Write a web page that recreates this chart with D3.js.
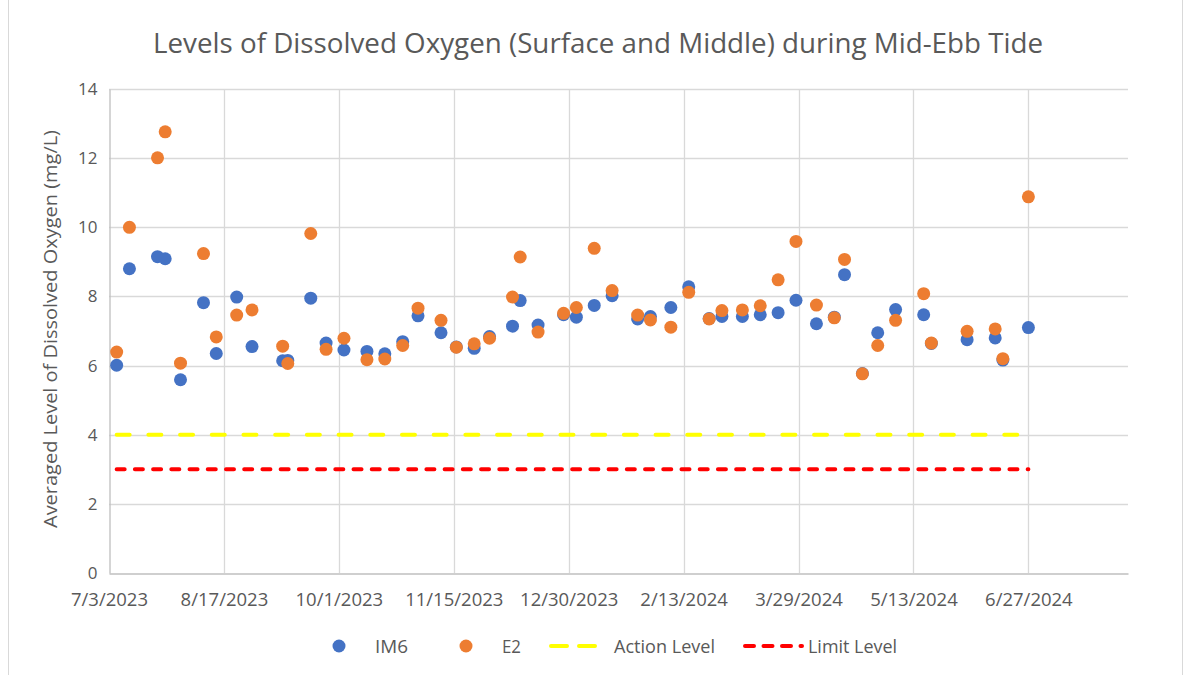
<!DOCTYPE html>
<html>
<head>
<meta charset="utf-8">
<script src="https://cdn.jsdelivr.net/npm/d3@7"></script>
<style>
  html, body { margin: 0; padding: 0; background: #fff; }
  svg { display: block; }
  text { font-family: "Open Sans", "DejaVu Sans", sans-serif; fill: #595959; }
</style>
</head>
<body>
<svg id="chart" width="1190" height="675"></svg>
<script>
// ---- data ----
const dates = ["2023-07-06","2023-07-11","2023-07-22","2023-07-25","2023-07-31","2023-08-09","2023-08-14","2023-08-22","2023-08-28","2023-09-09","2023-09-11","2023-09-20","2023-09-26","2023-10-03","2023-10-12","2023-10-19","2023-10-26","2023-11-01","2023-11-10","2023-11-16","2023-11-23","2023-11-29","2023-12-08","2023-12-11","2023-12-18","2023-12-28","2024-01-02","2024-01-09","2024-01-16","2024-01-26","2024-01-31","2024-02-08","2024-02-15","2024-02-23","2024-02-28","2024-03-07","2024-03-14","2024-03-21","2024-03-28","2024-04-05","2024-04-12","2024-04-16","2024-04-23","2024-04-29","2024-05-06","2024-05-17","2024-05-20","2024-06-03","2024-06-14","2024-06-17","2024-06-27"];
const im6 = [6.01,8.80,9.15,9.09,5.59,7.82,6.35,7.98,6.55,6.14,6.15,7.95,6.65,6.45,6.41,6.34,6.69,7.44,6.95,6.54,6.50,6.84,7.14,7.88,7.17,7.47,7.40,7.74,8.02,7.35,7.42,7.68,8.28,7.36,7.42,7.42,7.47,7.53,7.89,7.21,7.40,8.63,5.77,6.95,7.62,7.47,6.64,6.75,6.80,6.16,7.10];
const e2  = [6.39,10.00,12.01,12.76,6.07,9.24,6.83,7.46,7.61,6.56,6.06,9.82,6.47,6.79,6.17,6.19,6.58,7.66,7.31,6.53,6.63,6.79,7.98,9.14,6.97,7.51,7.68,9.39,8.17,7.46,7.32,7.11,8.12,7.35,7.59,7.61,7.73,8.48,9.59,7.75,7.38,9.07,5.76,6.58,7.31,8.08,6.65,6.99,7.06,6.20,10.88];
const actionLevel = 4;
const limitLevel = 3;
const xTickDates = ["2023-07-03","2023-08-17","2023-10-01","2023-11-15","2023-12-30","2024-02-13","2024-03-29","2024-05-13","2024-06-27"];
const xTickLabels = ["7/3/2023","8/17/2023","10/1/2023","11/15/2023","12/30/2023","2/13/2024","3/29/2024","5/13/2024","6/27/2024"];
const yTicks = [0,2,4,6,8,10,12,14];
const xDomain = ["2023-07-03","2024-08-05"];
const title = "Levels of Dissolved Oxygen (Surface and Middle) during Mid-Ebb Tide";
const yTitle = "Averaged Level of  Dissolved Oxygen (mg/L)";

// ---- drawing ----
const parse = d3.utcParse("%Y-%m-%d");
const svg = d3.select("#chart");
const pL = 109, pR = 1128, pT = 89, pB = 573;

const x = d3.scaleUtc().domain(xDomain.map(parse)).range([pL, pR]);
const y = d3.scaleLinear().domain([0, 14]).range([pB, pT]);

// chart border
svg.append("rect").attr("x", 8.5).attr("y", -5).attr("width", 1174).attr("height", 690)
  .attr("fill", "none").attr("stroke", "#d9d9d9");

// title
svg.append("text").attr("x", 598).attr("y", 53).attr("text-anchor", "middle")
  .attr("font-size", 27).attr("textLength", 890).attr("lengthAdjust", "spacingAndGlyphs")
  .text(title);

// gridlines
const grid = svg.append("g");
grid.selectAll("line.h").data(yTicks.filter(v => v > 0)).join("line")
  .attr("x1", pL).attr("x2", pR)
  .attr("y1", d => Math.round(y(d)) + 0.5).attr("y2", d => Math.round(y(d)) + 0.5)
  .attr("stroke", "#d9d9d9").attr("stroke-width", 1.3);
grid.selectAll("line.v").data(xTickDates.slice(1)).join("line")
  .attr("x1", d => Math.round(x(parse(d))) + 0.5).attr("x2", d => Math.round(x(parse(d))) + 0.5)
  .attr("y1", pT).attr("y2", pB)
  .attr("stroke", "#d9d9d9").attr("stroke-width", 1.3);

// axes via d3.axis
const yAxis = d3.axisLeft(y).tickValues(yTicks).tickSize(0).tickPadding(12);
const gy = svg.append("g").attr("transform", `translate(${pL + 0.5},0)`).call(yAxis);
gy.select(".domain").attr("stroke", "#bfbfbf").attr("stroke-width", 1.3);
gy.selectAll("text").attr("font-size", 17).attr("fill", "#595959")
  .style("font-family", '"Open Sans", sans-serif');

const xAxis = d3.axisBottom(x).tickValues(xTickDates.map(parse)).tickSize(0).tickPadding(19)
  .tickFormat((d, i) => xTickLabels[i]);
const gx = svg.append("g").attr("transform", `translate(0,${pB + 0.5})`).call(xAxis);
gx.select(".domain").attr("stroke", "#bfbfbf").attr("stroke-width", 1.3);
gx.selectAll("text").attr("font-size", 18.5).attr("fill", "#595959")
  .style("font-family", '"Open Sans", sans-serif');

// y title
svg.append("text").attr("transform", "translate(57,329) rotate(-90)").attr("text-anchor", "middle")
  .attr("font-size", 19).attr("textLength", 398).attr("lengthAdjust", "spacingAndGlyphs")
  .text(yTitle);

// level lines
const x0 = x(parse(dates[0])), x1 = x(parse(dates[dates.length - 1]));
svg.append("line").attr("x1", x0).attr("x2", x1).attr("y1", y(actionLevel)).attr("y2", y(actionLevel))
  .attr("stroke", "#ffff00").attr("stroke-width", 4).attr("stroke-linecap", "round")
  .attr("stroke-dasharray", "13,18.7");
svg.append("line").attr("x1", x0).attr("x2", x1).attr("y1", y(limitLevel)).attr("y2", y(limitLevel))
  .attr("stroke", "#ff0000").attr("stroke-width", 4).attr("stroke-linecap", "round")
  .attr("stroke-dasharray", "8,10.22");

// points
const pts = dates.map((d, i) => ({ date: parse(d), im6: im6[i], e2: e2[i] }));
svg.append("g").selectAll("circle").data(pts).join("circle")
  .attr("cx", d => x(d.date)).attr("cy", d => y(d.im6)).attr("r", 6.5).attr("fill", "#4472c4");
svg.append("g").selectAll("circle").data(pts).join("circle")
  .attr("cx", d => x(d.date)).attr("cy", d => y(d.e2)).attr("r", 6.5).attr("fill", "#ed7d31");

// legend
const lg = svg.append("g");
const ly = 646;
lg.append("circle").attr("cx", 339).attr("cy", ly).attr("r", 6.5).attr("fill", "#4472c4");
lg.append("text").attr("x", 375).attr("y", ly + 6.5).attr("font-size", 18)
  .attr("textLength", 33).attr("lengthAdjust", "spacingAndGlyphs").text("IM6");
lg.append("circle").attr("cx", 466).attr("cy", ly).attr("r", 6.5).attr("fill", "#ed7d31");
lg.append("text").attr("x", 502).attr("y", ly + 6.5).attr("font-size", 18)
  .attr("textLength", 19).attr("lengthAdjust", "spacingAndGlyphs").text("E2");
lg.append("line").attr("x1", 551).attr("x2", 596).attr("y1", ly).attr("y2", ly)
  .attr("stroke", "#ffff00").attr("stroke-width", 4).attr("stroke-linecap", "round")
  .attr("stroke-dasharray", "16,12");
lg.append("text").attr("x", 614).attr("y", ly + 6.5).attr("font-size", 18)
  .attr("textLength", 101).attr("lengthAdjust", "spacingAndGlyphs").text("Action Level");
lg.append("line").attr("x1", 745).attr("x2", 802).attr("y1", ly).attr("y2", ly)
  .attr("stroke", "#ff0000").attr("stroke-width", 4).attr("stroke-linecap", "round")
  .attr("stroke-dasharray", "9,9.5");
lg.append("text").attr("x", 808).attr("y", ly + 6.5).attr("font-size", 18)
  .attr("textLength", 89).attr("lengthAdjust", "spacingAndGlyphs").text("Limit Level");
</script>
</body>
</html>
